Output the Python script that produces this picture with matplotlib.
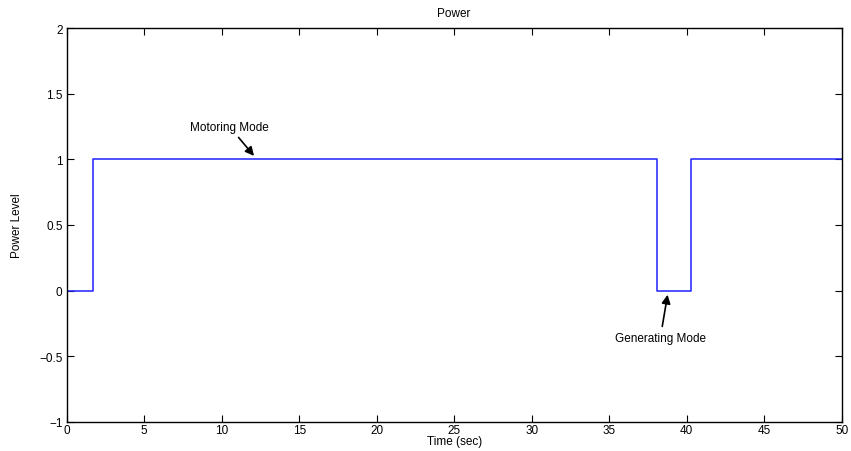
import matplotlib.pyplot as plt

# Power level step profile over time
time_sec = [0, 1.7, 38.1, 40.25, 50]
power_level = [0, 1, 0, 1, 1]

x_ticks = [0, 5, 10, 15, 20, 25, 30, 35, 40, 45, 50]
y_ticks = [-1, -0.5, 0, 0.5, 1, 1.5, 2]
y_tick_labels = ['\u22121', '\u22120.5', '0', '0.5', '1', '1.5', '2']

plt.rcParams['font.family'] = ['Liberation Sans', 'DejaVu Sans']
plt.rcParams['font.size'] = 8.5

fig = plt.figure(figsize=(8.51, 4.52), dpi=100)
ax = fig.add_axes([0.0784, 0.0642, 0.9106, 0.8716])

ax.plot(time_sec, power_level, drawstyle='steps-post', color='#2020ff', lw=1.1)

ax.set_xlim(0, 50)
ax.set_ylim(-1, 2)
ax.set_xticks(x_ticks)
ax.set_yticks(y_ticks)
ax.set_yticklabels(y_tick_labels)
ax.tick_params(direction='in', top=True, right=True, length=5, width=0.8, pad=3)
ax.tick_params(axis='x', pad=1.5)
for sp in ax.spines.values():
    sp.set_linewidth(1.0)

ax.set_title('Power', fontsize=8.5, pad=9)
ax.set_xlabel('Time (sec)', fontsize=8.5, labelpad=-1)
ax.set_ylabel('Power Level', fontsize=8.5, labelpad=12)

arrow = dict(arrowstyle='-|>', color='k', lw=1.2, mutation_scale=13)
ax.annotate('Motoring Mode', xy=(12.2, 1.01), xytext=(10.5, 1.25),
            ha='center', va='center', fontsize=8.5, arrowprops=arrow)
ax.annotate('Generating Mode', xy=(38.8, -0.01), xytext=(38.3, -0.36),
            ha='center', va='center', fontsize=8.5, arrowprops=arrow)

fig.savefig('out.png', dpi=100)
